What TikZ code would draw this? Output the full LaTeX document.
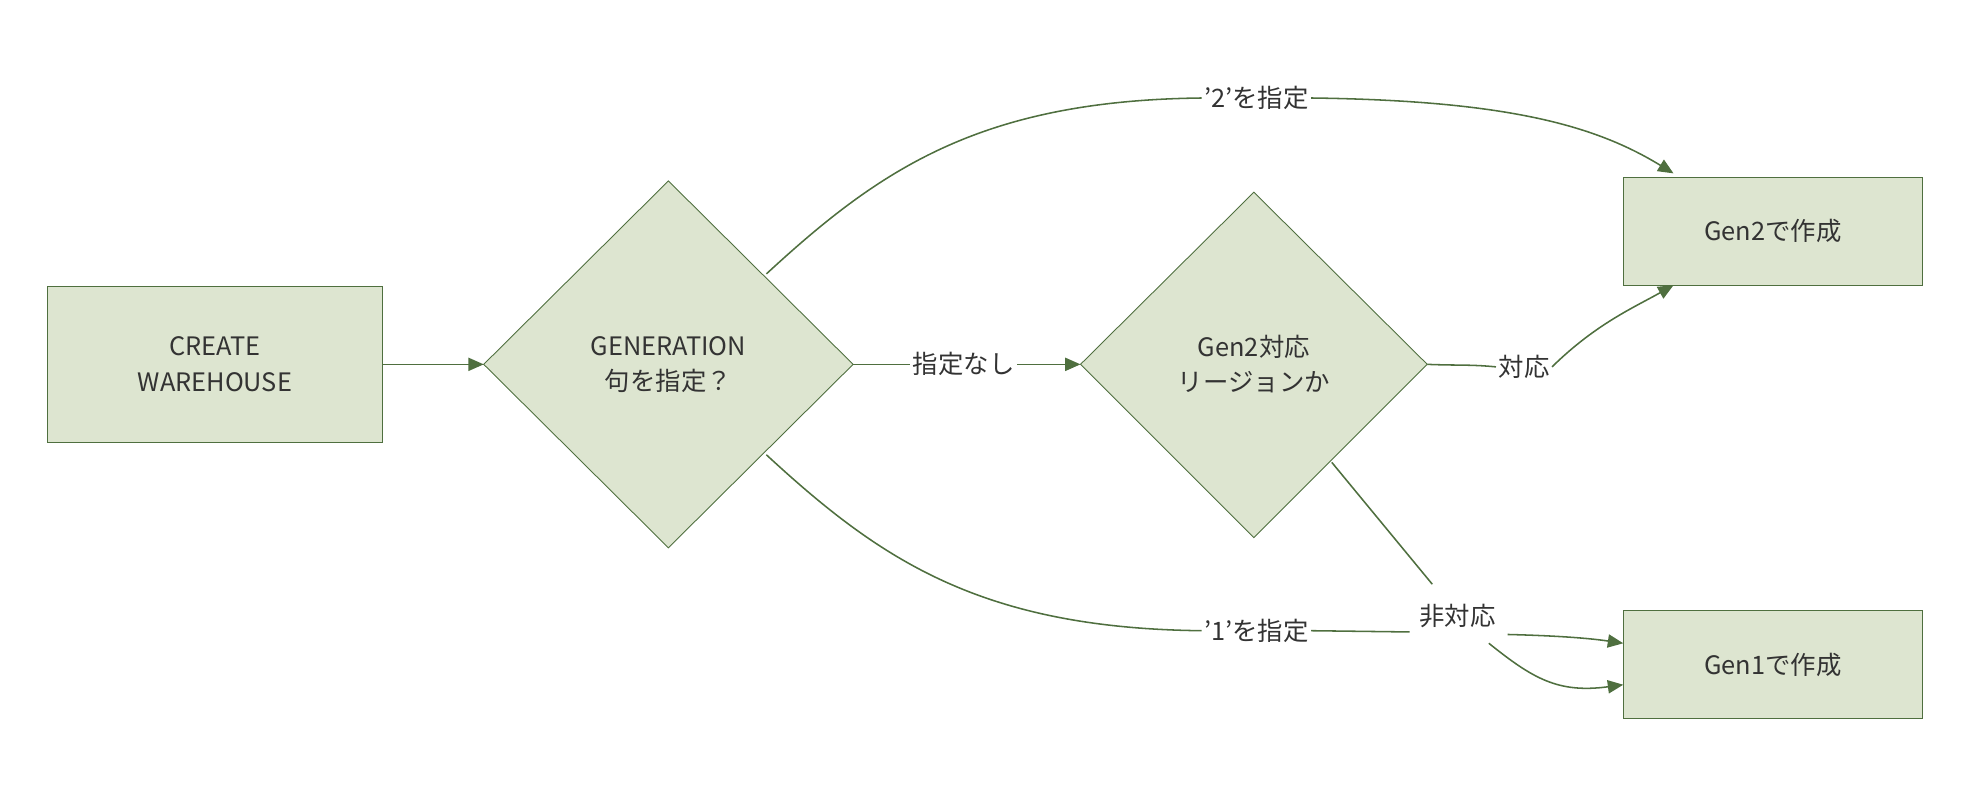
\documentclass[tikz,border=0pt]{standalone}
\usepackage{fontspec}
\setmainfont{Noto Sans CJK JP}
\usetikzlibrary{arrows.meta,shapes.geometric}
\definecolor{fillc}{HTML}{DDE5D0}
\definecolor{linec}{HTML}{4F6F3F}
\definecolor{txt}{HTML}{333333}
\begin{document}
\begin{tikzpicture}[x=0.02cm,y=-0.02cm,
  every node/.style={text=txt,font=\fontsize{11.5}{16}\selectfont},
  box/.style={draw=linec,fill=fillc,rectangle,inner sep=0,align=center},
  edge/.style={draw=linec,line width=0.7pt,-{Triangle[length=7pt,width=6pt]}},
  seg/.style={draw=linec,line width=0.7pt},
  lbl/.style={fill=white,inner sep=1pt}]
\useasboundingbox (0,0) rectangle (1568,635);
\node[box,minimum width=266*0.02cm,minimum height=124*0.02cm] (cw) at (171,290) {CREATE\\WAREHOUSE};
\node[box,minimum width=238*0.02cm,minimum height=86*0.02cm] (g2) at (1411,184) {Gen2で作成};
\node[box,minimum width=238*0.02cm,minimum height=86*0.02cm] (g1) at (1411,529) {Gen1で作成};
\path[draw=linec,fill=fillc] (385,290) -- (532,144) -- (679,290) -- (532,436) -- cycle;
\node[align=center] (d1) at (532,290) {GENERATION\\句を指定？};
\path[draw=linec,fill=fillc] (860,290) -- (998,153) -- (1136,290) -- (998,428) -- cycle;
\node[align=center] (d2) at (998,290) {Gen2対応\\リージョンか};
\coordinate (d1l) at (385,290); \coordinate (d1r) at (679,290);
\coordinate (d1t) at (610,218); \coordinate (d1b) at (610,362);
\coordinate (d2l) at (860,290); \coordinate (d2r) at (1136,290);
\coordinate (d2b) at (1060,368);
\draw[edge] (cw.east) -- (d1l);
\node[lbl] (l0) at (767,290) {指定なし};
\draw[seg] (d1r) -- (l0.west);
\draw[edge] (l0.east) -- (d2l);
\node[lbl] (l2) at (1000,78) {'2'を指定};
\draw[seg] (d1t) .. controls (700,135) and (780,80) .. (l2.west);
\draw[edge] (l2.east) .. controls (1200,80) and (1270,100) .. (1332,138);
\node[lbl] (l1) at (1000,502) {'1'を指定};
\draw[seg] (d1b) .. controls (700,445) and (780,500) .. (l1.west);
\coordinate (c1) at (1122,503);
\draw[seg] (l1.east) -- (c1);
\draw[edge] (1200,505) .. controls (1240,506) and (1265,508) .. (1292,512);
\node[lbl] (l3) at (1213,292) {対応};
\draw[seg] (d2r) .. controls (1160,291) and (1170,290) .. (l3.west);
\draw[edge] (l3.east) .. controls (1270,258) and (1300,245) .. (1332,227);
\draw[seg] (d2b) -- (1140,465);
\node[lbl,fill=none] (l4) at (1160,490) {非対応};
\draw[edge] (1185,512) .. controls (1220,540) and (1240,552) .. (1292,545);
\end{tikzpicture}
\end{document}
